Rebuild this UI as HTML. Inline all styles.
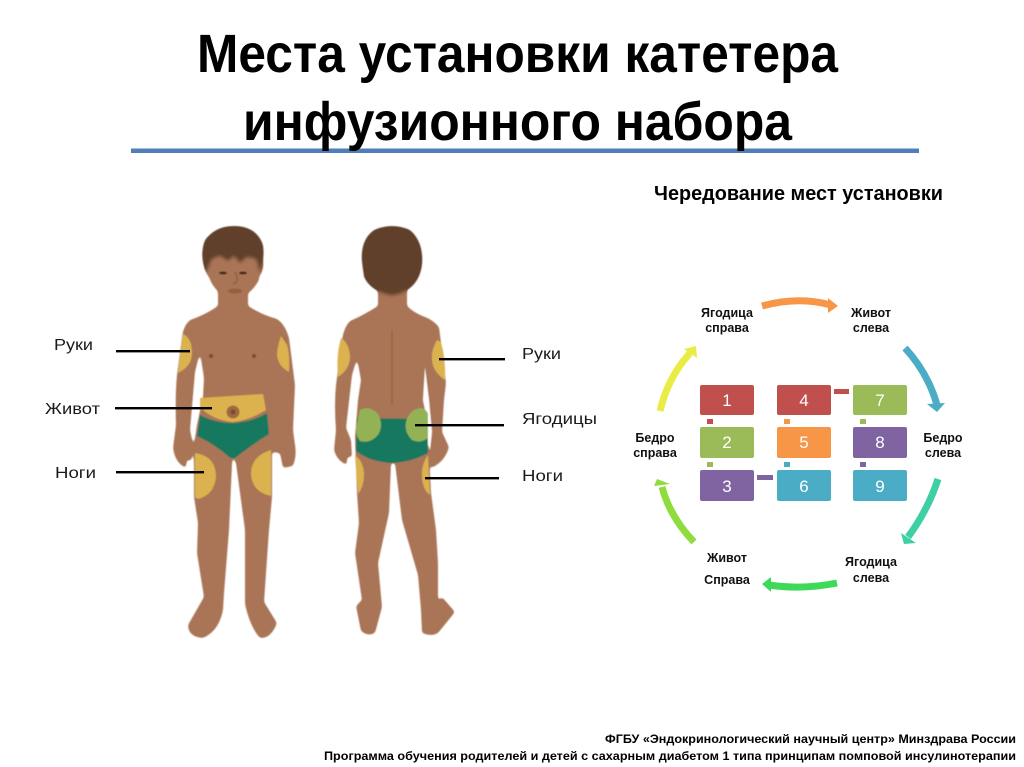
<!DOCTYPE html>
<html lang="ru"><head><meta charset="utf-8"><title>Места установки катетера</title>
<style>html,body{margin:0;padding:0;background:#fff;overflow:hidden}svg{display:block}text{font-family:"Liberation Sans",sans-serif}</style></head>
<body>
<svg width="1024" height="767" viewBox="0 0 1024 767" xmlns="http://www.w3.org/2000/svg">
<defs>
<filter id="b" x="-5%" y="-5%" width="110%" height="110%"><feGaussianBlur stdDeviation="0.5"/></filter>
<filter id="s" x="-5%" y="-5%" width="110%" height="110%"><feGaussianBlur stdDeviation="1.6"/><feComponentTransfer><feFuncA type="linear" slope="5" intercept="-2"/></feComponentTransfer></filter>
</defs>
<rect width="1024" height="767" fill="#fff"/>
<rect x="131" y="148.5" width="788" height="4.5" fill="#4f7fb8"/>
<g font-weight="bold" fill="#000">
<text x="197" y="72" font-size="54" textLength="641" lengthAdjust="spacingAndGlyphs">Места установки катетера</text>
<text x="243" y="140" font-size="54" textLength="549" lengthAdjust="spacingAndGlyphs">инфузионного набора</text>
<text x="654" y="200" font-size="20" textLength="289" lengthAdjust="spacingAndGlyphs">Чередование мест установки</text>
<text x="605" y="743" font-size="12" textLength="411" lengthAdjust="spacingAndGlyphs">ФГБУ «Эндокринологический научный центр» Минздрава России</text>
<text x="324" y="760" font-size="12" textLength="692" lengthAdjust="spacingAndGlyphs">Программа обучения родителей и детей с сахарным диабетом 1 типа принципам помповой инсулинотерапии</text>
</g>

<g filter="url(#b)">
<!-- Front figure -->
<g filter="url(#s)">
<path fill="#a97556" d="M218 290 L218 306 Q205 315 190 320 Q183 326 182 338 L177 375 Q175 395 176 425 L173 448 Q175 463 186 468 L187 457 L190 463 L194 449 L190 430 L195 372 L200 352 L204 378 L203 397 L197 425 L194 445 L194 497 L198 523 L197 553 L204 597 L188 625 Q188 637 203 638 Q219 631 223 610 L224 593 L229 530 L232 463 L233 456 L236 463 L245 530 L245 604 Q250 627 260 638 Q271 639 277 623 L264 602 L269 530 L272 497 L272 452 L280 453 L283 468 L293 466 Q297 455 295 445 L293 430 L295 385 L289 338 Q285 324 277 319 Q262 315 248 306 L248 290 Z"/>
<path fill="#a97556" d="M206 260 Q203 274 213 281 L254 281 Q265 274 263 260 Z"/>
<path fill="#a97556" d="M209 250 L260 250 L259 280 Q250 297 234 298 Q218 297 210 280 Z"/>
<path fill="#a97556" d="M272 452 L277 445 L282 430 L290 432 L288 452 Z"/>
<path fill="#613f2a" d="M206 273 Q199 255 205 240 Q216 225 236 226 Q257 227 263 245 Q265 258 260 273 L256 259 L247 257 L240 263 L234 256 L228 261 L220 256 L212 259 Z"/>
</g>
<ellipse cx="223" cy="273" rx="4" ry="1.5" fill="#4a2c1c"/><ellipse cx="243" cy="273" rx="4" ry="1.5" fill="#4a2c1c"/>
<path d="M235 272 Q240 282 233 284" fill="none" stroke="#8c5a3a" stroke-width="1.2"/>
<ellipse cx="235" cy="291" rx="7" ry="2.5" fill="#94603f"/>
<circle cx="211" cy="356" r="2" fill="#7a4c33"/><circle cx="254" cy="356" r="2" fill="#7a4c33"/>
<path d="M200 398 L263 394 L266 410 Q250 420 233 422 Q212 420 200 407 Z" fill="#dcb24f"/>
<circle cx="233" cy="412" r="6.5" fill="#a0683f"/><circle cx="233" cy="412" r="2.5" fill="#7a4c33"/>
<path d="M200 415 Q215 423 233 423 Q252 422 267 413 L269 434 Q250 446 235 458 Q231 459 228 456 Q214 444 197 436 Z" fill="#17785f"/>
<path d="M183 334 Q192 338 192 353 Q192 366 178 373 L180 355 Z" fill="#dcb24f"/>
<path d="M281 336 Q277 348 277 355 Q278 366 289 372 Q290 355 287 345 Z" fill="#dcb24f"/>
<path d="M195 453 Q216 456 216 477 Q214 495 198 499 L195 497 Z" fill="#dcb24f"/>
<path d="M271 450 Q251 456 251 474 Q252 492 271 496 Z" fill="#dcb24f"/>

<!-- Back figure -->
<g filter="url(#s)">
<path fill="#a97556" d="M378 290 L378 306 Q362 316 350 321 Q344 327 342 340 L336 385 Q334 405 336 430 L334 450 Q337 461 347 465 L347 457 L352 457 L351 440 L346 428 L352 375 L357 358 L361 380 L358 400 L355 437 L357 493 L359 523 L355 553 L362 600 L356 606 L361 631 Q368 637 375 633 L382 607 L378 563 L389 513 L391 463 L395 463 L402 520 L418 575 L421 610 L422 633 Q432 637 438 633 L455 612 L442 597 L438 601 L438 563 L436 530 L431 493 L429 453 L431 468 Q445 462 449 447 L442 432 L444 400 L446 383 L439 327 Q433 320 425 317 Q414 313 407 306 L407 290 Z"/>
<path fill="#613f2a" d="M362 262 Q360 240 374 230 Q392 222 410 230 Q424 242 422 265 Q420 280 410 288 Q398 297 388 295 Q370 290 364 277 Z"/>
</g>
<path d="M425 367 L429 400 L432 432 L430 450 L428 445 L427 420 L423 400 Z" fill="#fff"/>
<path d="M392 330 L392 405" stroke="#94603f" stroke-width="1.2" fill="none"/>
<path d="M357 418 L427 419 L428 453 Q412 462 392 463 Q370 462 356 451 Z" fill="#17785f"/>
<path d="M360 410 Q370 405 378 414 Q384 425 378 435 Q370 444 360 441 Q356 436 356 428 Z" fill="#93b256"/>
<path d="M414 410 Q425 405 428 414 L428 438 Q420 444 412 440 Q404 432 406 422 Q408 414 414 410 Z" fill="#93b256"/>
<path d="M341 338 Q350 344 350 358 Q349 370 338 377 Q336 355 341 338 Z" fill="#dcb24f"/>
<path d="M437 340 Q431 350 432 360 Q433 372 445 380 Q446 360 441 342 Z" fill="#dcb24f"/>
<path d="M355 455 Q364 462 364 475 Q364 486 358 494 Z" fill="#dcb24f"/>
<path d="M428 455 Q421 465 422 478 Q423 490 430 495 Z" fill="#dcb24f"/>
</g>

<g fill="#000">
<rect x="116" y="350" width="74" height="2.4"/><rect x="115" y="407" width="97" height="2.4"/><rect x="116" y="471" width="88" height="2.4"/>
<rect x="439" y="358" width="66" height="2.4"/><rect x="415" y="424" width="89" height="2.4"/><rect x="425" y="477" width="74" height="2.4"/>
</g>
<g font-size="16" fill="#1a1a1a">
<text x="54" y="350" textLength="39" lengthAdjust="spacingAndGlyphs">Руки</text>
<text x="45" y="414" textLength="55" lengthAdjust="spacingAndGlyphs">Живот</text>
<text x="55" y="478" textLength="41" lengthAdjust="spacingAndGlyphs">Ноги</text>
<text x="522" y="359" textLength="39" lengthAdjust="spacingAndGlyphs">Руки</text>
<text x="522" y="424" textLength="75" lengthAdjust="spacingAndGlyphs">Ягодицы</text>
<text x="522" y="481" textLength="41" lengthAdjust="spacingAndGlyphs">Ноги</text>
</g>

<!-- Cycle -->
<g>
<rect x="700" y="385" width="54" height="30" rx="2" fill="#c0504d"/><rect x="777" y="385" width="54" height="30" rx="2" fill="#c0504d"/><rect x="853" y="385" width="54" height="30" rx="2" fill="#9bbb59"/>
<rect x="700" y="427" width="54" height="31" rx="2" fill="#9bbb59"/><rect x="777" y="427" width="54" height="31" rx="2" fill="#f79646"/><rect x="853" y="427" width="54" height="31" rx="2" fill="#8064a2"/>
<rect x="700" y="470" width="54" height="31" rx="2" fill="#8064a2"/><rect x="777" y="470" width="54" height="31" rx="2" fill="#4bacc6"/><rect x="853" y="470" width="54" height="31" rx="2" fill="#4bacc6"/>
<rect x="707" y="419" width="6" height="5" fill="#c0504d"/><rect x="784" y="419" width="6" height="5" fill="#f79646"/><rect x="860" y="419" width="6" height="5" fill="#9bbb59"/>
<rect x="707" y="462" width="6" height="5" fill="#9bbb59"/><rect x="784" y="462" width="6" height="5" fill="#4bacc6"/><rect x="860" y="462" width="6" height="5" fill="#8064a2"/>
<rect x="834" y="389" width="15" height="5" fill="#c0504d"/><rect x="757" y="475" width="16" height="5" fill="#8064a2"/>
</g>
<g font-size="17" fill="#fff" text-anchor="middle">
<text x="727" y="406">1</text><text x="804" y="406">4</text><text x="880" y="406">7</text>
<text x="727" y="448">2</text><text x="804" y="448">5</text><text x="880" y="448">8</text>
<text x="727" y="492">3</text><text x="804" y="492">6</text><text x="880" y="492">9</text>
</g>
<g fill="none" stroke-width="7">
<path d="M762 306 Q798 296 831 305" stroke="#f79646"/>
<path d="M905 348 Q928 373 937 405" stroke="#4bacc6"/>
<path d="M938 479 Q928 510 908 537" stroke="#3fcfa5"/>
<path d="M837 583 Q802 590 769 585" stroke="#3fd95a"/>
<path d="M694 542 Q670 517 662 487" stroke="#8fdc3f"/>
<path d="M660 411 Q668 377 690 353" stroke="#e9ec45"/>
</g>
<polygon points="828,298 838,306 828,313" fill="#f79646"/>
<polygon points="927,404 945,403 937,412" fill="#4bacc6"/>
<polygon points="901,533 916,543 904,544" fill="#3fcfa5"/>
<polygon points="771,577 762,584 771,592" fill="#3fd95a"/>
<polygon points="654,486 657,479 670,484" fill="#8fdc3f"/>
<polygon points="684,349 696,346 697,358" fill="#e9ec45"/>
<g font-size="12.5" font-weight="bold" fill="#111" text-anchor="middle">
<text x="727" y="317">Ягодица</text><text x="727" y="332">справа</text>
<text x="871" y="317">Живот</text><text x="871" y="332">слева</text>
<text x="943" y="442">Бедро</text><text x="943" y="457">слева</text>
<text x="871" y="566">Ягодица</text><text x="871" y="582">слева</text>
<text x="727" y="562">Живот</text><text x="727" y="584">Справа</text>
<text x="655" y="442">Бедро</text><text x="655" y="457">справа</text>
</g>
</svg>
</body></html>
